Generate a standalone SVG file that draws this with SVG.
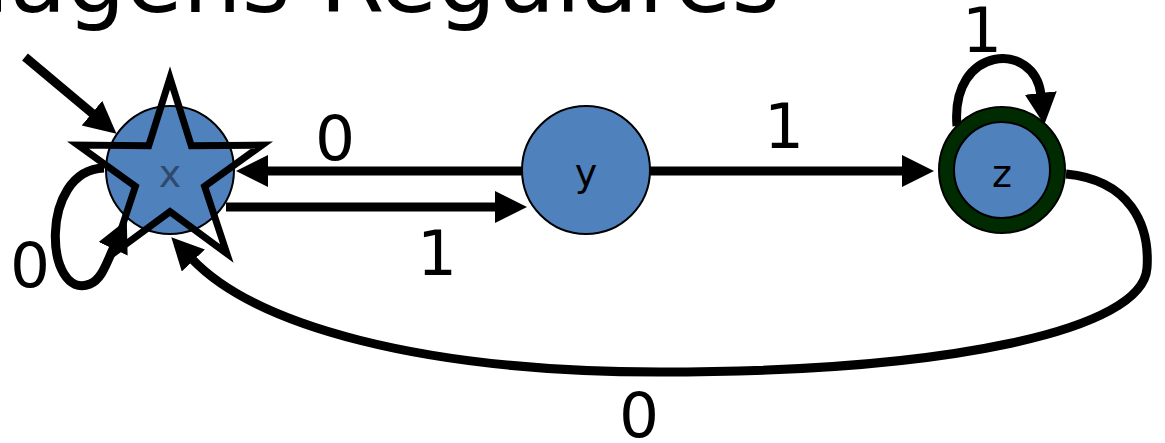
<svg xmlns="http://www.w3.org/2000/svg" width="1165" height="443" viewBox="0 0 1165 443">
  <style>
    .title { font-family: "DejaVu Sans", Verdana, sans-serif; font-size: 93px; fill: #000; }
    .lbl { font-family: "DejaVu Sans", Verdana, sans-serif; font-size: 63px; fill: #000; text-anchor: middle; }
    .nlbl { font-family: "DejaVu Sans", Verdana, sans-serif; font-size: 38px; fill: #000; text-anchor: middle; }
    .state { fill: #4F81BD; stroke: #000; stroke-width: 2; }
    .edge { fill: none; stroke: #000; stroke-width: 9; }
  </style>
  <defs>
    <marker id="ah" markerUnits="userSpaceOnUse" markerWidth="36" markerHeight="34" refX="2" refY="16" orient="auto">
      <path d="M0,0 L32,16 L0,32 z" fill="#000"/>
    </marker>
  </defs>
  <rect width="1165" height="443" fill="#fff"/>
  <text class="title" x="780" y="12" text-anchor="end">Linguagens Regulares</text>

  <g id="connectors">
    <path class="edge" d="M25,57 L93.5,114.4" marker-end="url(#ah)"/>
    <path class="edge" d="M522,171 L266,171" marker-end="url(#ah)"/>
    <path class="edge" d="M226,207 L497,207" marker-end="url(#ah)"/>
    <path class="edge" d="M650,171 L904,171" marker-end="url(#ah)"/>
    <path class="edge" d="M957,126 C950,45 1035,40 1041,95" marker-end="url(#ah)"/>
    <path class="edge" d="M104,168 C38,170 45,302 90,284 C102,279 106,264 114,247" marker-end="url(#ah)"/>
    <path class="edge" d="M1066,174 C1130,180 1150,225 1147,268 C1143,330 950,372 660,372 C420,372 255,325 192,259" marker-end="url(#ah)"/>
  </g>

  <g id="node-x">
    <circle class="state" cx="170" cy="170" r="64"/>
    <text class="nlbl" x="170" y="187" style="fill:#2F4A6B">x</text>
    <polygon points="170,78 191.3,145.7 262,145.1 204.6,186.3 226.8,253.5 170,211.6 113.2,253.5 135.4,186.3 78,145.1 148.7,145.7" fill="none" stroke="#000" stroke-width="7" stroke-linejoin="miter"/>
  </g>
  <g id="node-y">
    <circle class="state" cx="586" cy="170" r="64"/>
    <text class="nlbl" x="586" y="186">y</text>
  </g>
  <g id="node-z">
    <circle cx="1002" cy="170" r="63" fill="#002B00" stroke="#000" stroke-width="2"/>
    <circle class="state" cx="1002" cy="170" r="48"/>
    <text class="nlbl" x="1002" y="187">z</text>
  </g>

  <g id="labels">
    <text class="lbl" x="335" y="160">0</text>
    <text class="lbl" x="784" y="148">1</text>
    <text class="lbl" x="437" y="275">1</text>
    <text class="lbl" x="982" y="52">1</text>
    <text class="lbl" x="30" y="287">0</text>
    <text class="lbl" x="639" y="437">0</text>
  </g>
</svg>
